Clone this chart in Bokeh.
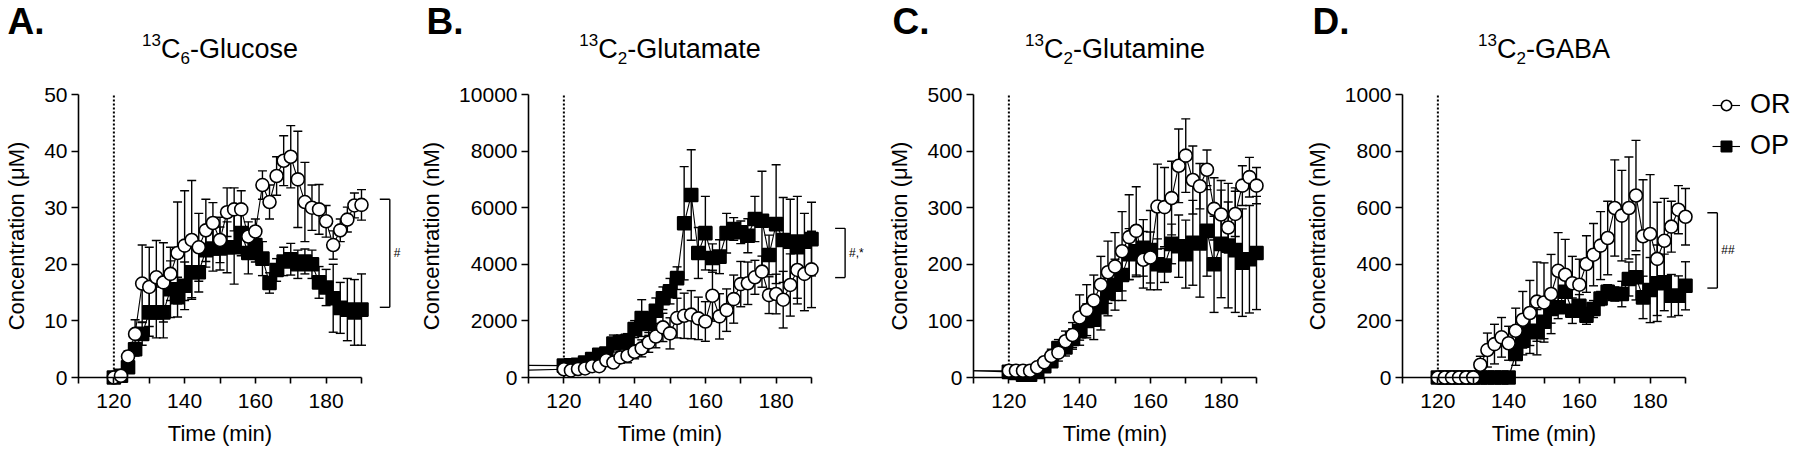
from bokeh.plotting import figure
from bokeh.models import Range1d, FixedTicker, Label, Legend, LegendItem, ColumnDataSource, LinearAxis
from bokeh.core.properties import value
from bokeh.embed import file_html
from bokeh.resources import INLINE

# ---------------- data ----------------
time = [120, 122, 124, 126, 128, 130, 132, 134, 136, 138, 140, 142, 144, 146, 148, 150, 152, 154,
        156, 158, 160, 162, 164, 166, 168, 170, 172, 174, 176, 178, 180, 182, 184, 186, 188, 190]
baseline_time = 110
infusion_start = 120

glucose_or_mean = [0, 0.3, 3.7, 7.7, 16.6, 16.0, 17.7, 16.8, 18.3, 22.0, 23.3, 24.3, 23.0, 26.0, 27.3, 24.3, 29.2, 29.7,
                   29.7, 24.9, 25.8, 34.0, 31.0, 35.6, 38.3, 39.0, 35.0, 31.0, 30.0, 29.7, 27.6, 23.4, 26.0, 27.9, 30.4, 30.5]
glucose_or_sem = [0, 0.2, 1.0, 2.5, 6.8, 7.0, 6.5, 7.0, 4.7, 9.0, 9.7, 10.5, 6.0, 5.5, 3.6, 4.0, 4.3, 3.8,
                  3.3, 2.6, 2.2, 2.5, 3.0, 3.4, 4.4, 5.5, 8.5, 7.0, 4.0, 4.4, 2.8, 2.5, 2.0, 2.2, 2.2, 2.7]
glucose_op_mean = [0, 0.3, 1.8, 5.0, 7.7, 11.5, 11.5, 11.5, 15.6, 14.2, 16.2, 18.6, 18.6, 22.5, 22.8, 22.8, 23.0, 23.0,
                   25.5, 22.0, 23.4, 21.0, 16.7, 19.0, 20.5, 20.9, 20.0, 20.5, 20.0, 16.8, 15.9, 14.0, 12.3, 12.0, 11.5, 12.0]
glucose_op_sem = [0, 0.2, 0.8, 1.2, 2.0, 4.2, 4.5, 4.5, 5.0, 3.5, 4.2, 4.5, 3.5, 3.0, 4.0, 3.8, 4.5, 6.5,
                  4.0, 3.7, 3.0, 3.0, 1.8, 2.0, 2.5, 2.8, 2.5, 2.2, 2.5, 2.8, 3.2, 6.0, 4.5, 5.5, 5.8, 6.3]

glutamate_or_mean = [290, 250, 300, 320, 400, 400, 610, 530, 710, 770, 910, 1030, 1240, 1450, 1770, 1560, 2100, 2180,
                     2220, 2090, 1980, 2890, 2160, 2380, 2770, 3300, 3330, 3540, 3740, 2910, 2950, 2750, 3270, 3800, 3660, 3820]
glutamate_or_sem = [50, 50, 50, 60, 80, 100, 150, 150, 200, 250, 250, 300, 350, 400, 500, 550, 700, 800,
                    850, 750, 700, 900, 800, 750, 850, 800, 750, 600, 550, 650, 700, 1000, 1100, 1200, 1300, 1350]
glutamate_op_mean = [420, 430, 450, 530, 650, 800, 850, 1200, 1250, 1300, 1710, 2100, 1890, 2360, 2800, 3050, 3510, 5450,
                     6450, 4400, 5100, 4220, 4270, 5100, 5250, 5130, 5010, 5600, 5540, 4330, 5420, 4860, 4800, 4600, 4800, 4890]
glutamate_op_sem = [50, 50, 50, 60, 80, 100, 120, 300, 250, 250, 300, 650, 400, 450, 400, 450, 400, 2000,
                    1600, 900, 1300, 500, 600, 700, 400, 400, 600, 800, 1750, 700, 2100, 1500, 1500, 1800, 1000, 1300]

glutamine_or_mean = [12, 12, 12, 12, 18, 27, 38, 44, 64, 75, 106, 119, 136, 164, 186, 196, 223, 248,
                     259, 208, 212, 302, 301, 317, 374, 392, 349, 338, 367, 298, 288, 265, 289, 339, 354, 339]
glutamine_or_sem = [2, 2, 2, 3, 5, 8, 12, 15, 18, 22, 40, 45, 45, 50, 55, 60, 70, 75,
                    78, 50, 45, 75, 70, 65, 65, 65, 60, 40, 35, 55, 60, 45, 40, 35, 35, 32]
glutamine_op_mean = [10, 8, 5, 5, 10, 20, 29, 52, 53, 68, 82, 100, 102, 124, 149, 164, 181, 218,
                     223, 229, 225, 200, 198, 236, 232, 218, 238, 237, 259, 200, 236, 233, 225, 203, 209, 220]
glutamine_op_sem = [2, 2, 2, 2, 3, 5, 8, 15, 15, 18, 25, 30, 35, 40, 40, 45, 45, 45,
                    45, 50, 70, 45, 30, 35, 55, 60, 75, 95, 80, 85, 95, 110, 110, 95, 95, 100]

gaba_or_mean = [0, 0, 0, 0, 0, 0, 45, 97, 118, 142, 121, 165, 204, 228, 268, 265, 295, 377,
                363, 333, 328, 401, 434, 466, 493, 599, 572, 599, 643, 499, 507, 419, 483, 533, 593, 568]
gaba_or_sem = [0, 0, 0, 0, 0, 0, 30, 60, 70, 70, 60, 80, 100, 115, 140, 140, 140, 135,
               125, 95, 90, 100, 110, 120, 130, 170, 160, 180, 195, 200, 210, 200, 150, 90, 85, 100]
gaba_op_mean = [0, 0, 0, 0, 0, 0, 0, 0, 0, 0, 0, 83, 130, 165, 160, 197, 242, 248,
                303, 236, 253, 218, 242, 279, 303, 295, 295, 348, 354, 283, 309, 333, 336, 289, 289, 324]
gaba_op_sem = [0, 0, 0, 0, 0, 0, 0, 0, 0, 0, 0, 40, 50, 80, 80, 60, 50, 40,
               50, 45, 40, 30, 30, 25, 25, 25, 45, 60, 80, 75, 115, 135, 100, 75, 70, 85]

baseline_or = [0, 260, 12, 0]
baseline_op = [0, 430, 12, 0]

letters = ["A.", "B.", "C.", "D."]
title_mass = ["13", "13", "13", "13"]
title_label_count = ["6", "2", "2", "2"]
title_names = ["-Glucose", "-Glutamate", "-Glutamine", "-GABA"]
y_labels = ["Concentration (\u03bcM)", "Concentration (nM)", "Concentration (\u03bcM)", "Concentration (nM)"]
y_max = [50, 10000, 500, 1000]
y_ticks = [[0, 10, 20, 30, 40, 50],
           [0, 2000, 4000, 6000, 8000, 10000],
           [0, 100, 200, 300, 400, 500],
           [0, 200, 400, 600, 800, 1000]]
x_major_ticks = [120, 140, 160, 180]
x_minor_ticks = [110, 130, 150, 170, 190]
x_bounds = (110, 190)

bracket_x = [198.0, 199.5, None, 199.0]
bracket_hi = [31.5, 5270, None, 582]
bracket_lo = [12.4, 3530, None, 316]
bracket_text = ["#", "#,*", None, "##"]

series = [
    (glucose_or_mean, glucose_or_sem, glucose_op_mean, glucose_op_sem),
    (glutamate_or_mean, glutamate_or_sem, glutamate_op_mean, glutamate_op_sem),
    (glutamine_or_mean, glutamine_or_sem, glutamine_op_mean, glutamine_op_sem),
    (gaba_or_mean, gaba_or_sem, gaba_op_mean, gaba_op_sem),
]

# ---------------- layout / style (page pixels) ----------------
FONT = "Liberation Sans"
CANVAS_W, CANVAS_H = 1800, 450
PAGE_X0, PAGE_Y0 = 0, 0
axis_page_x = [78, 528, 973, 1402]      # where x = 110 sits, per panel
top_page_y, zero_page_y = 94, 377       # where y = ymax and y = 0 sit
PX_PER_MIN = 3.5375
letter_page_x = [7, 426, 892, 1312]
letter_mid_y = 21
title_mid_y, title_sup_mid_y, title_sub_mid_y = 48, 39, 57
legend_page = (1712, 161)

EM = {'0': .556, '1': .556, '2': .556, '3': .556, '6': .556, 'C': .722, '-': .333, 'G': .778, 'l': .222,
      'u': .556, 'c': .5, 'o': .556, 's': .5, 'e': .556, 't': .278, 'a': .556, 'm': .833, 'i': .222,
      'n': .556, 'A': .667, 'B': .667}


def tw(s, size):
    return sum(EM.get(ch, .556) for ch in s) * size


def sx(page_x):
    return page_x - PAGE_X0


def sy(page_y):
    return PAGE_Y0 + CANVAS_H - page_y


def x_range_for(i):
    x0 = x_bounds[0] - (axis_page_x[i] - PAGE_X0) / PX_PER_MIN
    return Range1d(x0, x0 + CANVAS_W / PX_PER_MIN)


def y_range_for(i):
    k = y_max[i] / (zero_page_y - top_page_y)
    return Range1d(-(PAGE_Y0 + CANVAS_H - zero_page_y) * k, y_max[i] + (top_page_y - PAGE_Y0) * k)


p = figure(width=CANVAS_W, height=CANVAS_H, output_backend="svg", toolbar_location=None,
           x_range=x_range_for(0), y_range=y_range_for(0), x_axis_type=None, y_axis_type=None,
           min_border=0, min_border_left=0, min_border_right=0, min_border_top=0, min_border_bottom=0)
p.outline_line_color = None
p.grid.visible = False
p.background_fill_color = "white"
p.border_fill_color = "white"
p.extra_x_ranges = {f"x{i}": x_range_for(i) for i in range(1, 4)}
p.extra_y_ranges = {f"y{i}": y_range_for(i) for i in range(1, 4)}


def style_axis(ax):
    ax.axis_line_color = "black"
    ax.axis_line_width = 1.6
    ax.major_tick_line_color = "black"
    ax.major_tick_line_width = 1.6
    ax.major_tick_in = 0
    ax.minor_tick_line_color = "black"
    ax.minor_tick_line_width = 1.6
    ax.minor_tick_in = 0
    ax.major_label_text_font = FONT
    ax.major_label_text_font_size = "21px"
    ax.major_label_text_color = "black"
    ax.axis_label_text_font = FONT
    ax.axis_label_text_font_size = "22px"
    ax.axis_label_text_font_style = "normal"
    ax.axis_label_text_color = "black"


legend_items = []
for i in range(4):
    xn = "default" if i == 0 else f"x{i}"
    yn = "default" if i == 0 else f"y{i}"
    rn = dict(x_range_name=xn, y_range_name=yn)
    or_mean, or_sem, op_mean, op_sem = series[i]
    ymax = y_max[i]

    xax = LinearAxis(fixed_location=0, bounds=x_bounds, axis_label="Time (min)",
                     ticker=FixedTicker(ticks=x_major_ticks, minor_ticks=x_minor_ticks), **rn)
    style_axis(xax)
    xax.major_tick_out = 6
    xax.minor_tick_out = 6
    xax.major_label_standoff = 10
    xax.axis_label_standoff = 10
    p.add_layout(xax, "below")

    yax = LinearAxis(fixed_location=x_bounds[0], bounds=(0, ymax), axis_label=y_labels[i],
                     ticker=FixedTicker(ticks=y_ticks[i]), **rn)
    style_axis(yax)
    yax.major_tick_out = 7
    yax.minor_tick_out = 0
    yax.major_label_standoff = 4
    yax.axis_label_standoff = 12
    p.add_layout(yax, "left")

    # infusion marker
    p.segment(x0=[infusion_start], y0=[0], x1=[infusion_start], y1=[ymax],
              line_color="black", line_width=2, line_dash="2 2", **rn)

    rends = {}
    for grp, mean, sem, base, marker, fill in (("OP", op_mean, op_sem, baseline_op[i], "square", "black"),
                                               ("OR", or_mean, or_sem, baseline_or[i], "circle", "white")):
        up = [m + s for m, s in zip(mean, sem)]
        lo = [m - s for m, s in zip(mean, sem)]
        src = ColumnDataSource(dict(t=time, m=mean, up=up, lo=lo))
        p.segment(x0="t", y0="lo", x1="t", y1="up", source=src, line_color="black", line_width=1.4, **rn)
        p.scatter(x="t", y="up", source=src, marker="dash", size=9, line_color="black", line_width=1.4, **rn)
        p.scatter(x="t", y="lo", source=src, marker="dash", size=9, line_color="black", line_width=1.4, **rn)
        ln = p.line(x=[baseline_time] + time, y=[base] + mean, line_color="black", line_width=1.1, **rn)
        pts = p.scatter(x="t", y="m", source=src, marker=marker, size=13, fill_color=fill,
                        line_color="black", line_width=1.6, **rn)
        rends[grp] = [ln, pts]
    if i == 3:
        legend_items = [LegendItem(label="OR", renderers=rends["OR"]),
                        LegendItem(label="OP", renderers=rends["OP"])]

    # significance bracket
    if bracket_x[i] is not None:
        bx = bracket_x[i]
        tick = 10 / PX_PER_MIN
        p.segment(x0=[bx, bx - tick, bx - tick], y0=[bracket_lo[i], bracket_hi[i], bracket_lo[i]],
                  x1=[bx, bx, bx], y1=[bracket_hi[i], bracket_hi[i], bracket_lo[i]],
                  line_color="black", line_width=1.4, **rn)
        p.text(x=[bx], y=[(bracket_hi[i] + bracket_lo[i]) / 2], text=[bracket_text[i]], x_offset=4,
               text_font=value(FONT), text_font_size="12px", text_baseline="middle", text_align="left",
               text_color="black", **rn)

    # panel letter
    p.add_layout(Label(x=sx(letter_page_x[i]), y=sy(letter_mid_y), x_units="screen", y_units="screen",
                       text=letters[i], text_font=FONT, text_font_size="37px", text_font_style="bold",
                       text_color="black", text_baseline="middle", text_align="left"))

    # title with super/subscript pieces, centred over the 110-190 span
    center_page_x = axis_page_x[i] + (x_bounds[1] - x_bounds[0]) / 2 * PX_PER_MIN
    pieces = [(title_mass[i], 17, title_sup_mid_y), ("C", 27, title_mid_y),
              (title_label_count[i], 17, title_sub_mid_y), (title_names[i], 27, title_mid_y)]
    total = sum(tw(s, sz) for s, sz, _ in pieces)
    xo = center_page_x - total / 2
    for s, sz, py in pieces:
        p.add_layout(Label(x=sx(xo), y=sy(py), x_units="screen", y_units="screen", text=s, text_font=FONT,
                           text_font_size=f"{sz}px", text_color="black",
                           text_baseline="middle", text_align="left"))
        xo += tw(s, sz)

legend = Legend(items=legend_items, location=(sx(legend_page[0]), sy(legend_page[1])),
                glyph_width=28, glyph_height=26, label_standoff=10, spacing=10, padding=0, margin=0,
                border_line_alpha=0, background_fill_alpha=0,
                label_text_font=FONT, label_text_font_size="27px", label_text_color="black")
p.add_layout(legend)

open("out.html", "w").write(file_html(p, INLINE))
